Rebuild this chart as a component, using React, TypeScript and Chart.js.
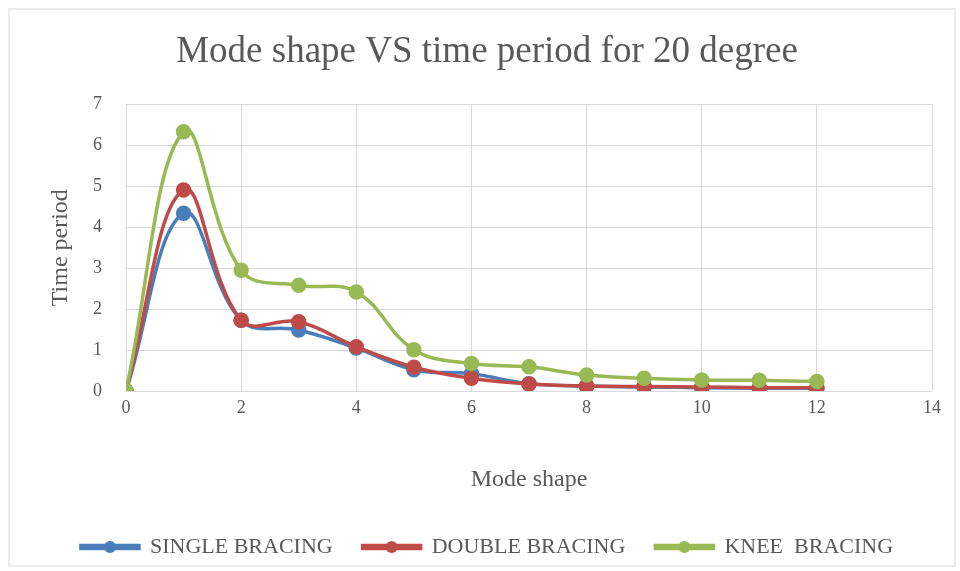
import React, { useEffect, useRef } from "react";
import { Chart, registerables } from "chart.js";

Chart.register(...registerables);

const modes = [0, 1, 2, 3, 4, 5, 6, 7, 8, 9, 10, 11, 12];
const singleBracing = [0, 4.34, 1.73, 1.49, 1.05, 0.52, 0.42, 0.18, 0.12, 0.1, 0.08, 0.07, 0.07];
const doubleBracing = [0, 4.91, 1.73, 1.69, 1.08, 0.58, 0.31, 0.17, 0.12, 0.11, 0.1, 0.08, 0.08];
const kneeBracing = [0, 6.33, 2.95, 2.58, 2.42, 1.01, 0.67, 0.59, 0.39, 0.31, 0.27, 0.26, 0.23];
const seriesNames = ["SINGLE BRACING", "DOUBLE BRACING", "KNEE  BRACING"];
const seriesColors = ["#4A7EBB", "#BE4B48", "#98B954"];

const FONT = "'Liberation Serif', 'DejaVu Serif', serif";
const TEXT = "#595959";

const legendMarkers = {
  id: "legendMarkers",
  afterDraw(chart: any) {
    const legend = chart.legend;
    if (!legend || !legend.legendHitBoxes) return;
    const ctx = chart.ctx;
    const bw = legend.options.labels.boxWidth;
    legend.legendItems.forEach((item: any, i: number) => {
      const hb = legend.legendHitBoxes[i];
      if (!hb) return;
      ctx.save();
      ctx.fillStyle = seriesColors[item.datasetIndex];
      ctx.beginPath();
      ctx.arc(hb.left + bw / 2, hb.top + hb.height / 2, 6, 0, Math.PI * 2);
      ctx.fill();
      ctx.restore();
    });
  },
};

const frame = {
  id: "frame",
  beforeDraw(chart: any) {
    const ctx = chart.ctx;
    ctx.save();
    ctx.fillStyle = "#ffffff";
    ctx.fillRect(0, 0, chart.width, chart.height);
    ctx.strokeStyle = "#ececec";
    ctx.lineWidth = 2;
    ctx.strokeRect(9, 9, chart.width - 14, chart.height - 14);
    ctx.restore();
  },
};

export default function App() {
  const ref = useRef<HTMLCanvasElement>(null);
  useEffect(() => {
    document.body.style.margin = "0";
    const mk = (vals: number[]) => modes.map((m, i) => ({ x: m, y: vals[i] }));
    const all = [singleBracing, doubleBracing, kneeBracing];
    const chart = new Chart(ref.current!, {
      type: "line",
      data: {
        datasets: all.map((vals, i) => ({
          label: seriesNames[i],
          data: mk(vals),
          borderColor: seriesColors[i],
          backgroundColor: seriesColors[i],
          pointBackgroundColor: seriesColors[i],
          pointBorderColor: seriesColors[i],
          pointRadius: 6,
          borderWidth: 3.5,
          tension: 0.4,
          order: 3 - i,
        })),
      },
      options: {
        responsive: false,
        animation: false,
        layout: { padding: { left: 42, right: 28, top: 0, bottom: 3 } },
        plugins: {
          title: {
            display: true,
            text: "Mode shape VS time period for 20 degree",
            color: TEXT,
            font: { family: FONT, size: 37, weight: "normal" },
            padding: { top: 30, bottom: 30 },
          },
          legend: {
            position: "bottom",
            labels: {
              color: TEXT,
              font: { family: FONT, size: 22 },
              boxWidth: 58,
              boxHeight: 3,
              padding: 30,
              sort: (a: any, b: any) => a.datasetIndex - b.datasetIndex,
            },
          },
          tooltip: { enabled: false },
        },
        scales: {
          x: {
            type: "linear",
            min: 0,
            max: 14,
            ticks: { stepSize: 2, color: TEXT, font: { family: FONT, size: 18 }, padding: 6 },
            grid: { color: "#d9d9d9", drawTicks: false },
            border: { display: false },
            title: {
              display: true,
              text: "Mode shape",
              color: TEXT,
              font: { family: FONT, size: 24 },
              padding: { top: 0, bottom: 12 },
            },
            afterFit: (s: any) => {
              s.height = 115;
            },
          },
          y: {
            min: 0,
            max: 7,
            ticks: { stepSize: 1, color: TEXT, font: { family: FONT, size: 18 }, padding: 24 },
            grid: { color: "#d9d9d9", drawTicks: false },
            border: { display: false },
            title: {
              display: true,
              text: "Time period",
              color: TEXT,
              font: { family: FONT, size: 24 },
              padding: { top: 4, bottom: 0 },
            },
            afterFit: (s: any) => {
              s.width = 84;
            },
          },
        },
      },
      plugins: [frame, legendMarkers],
    });
    return () => chart.destroy();
  }, []);
  return (
    <div style={{ width: 960, height: 571 }}>
      <canvas ref={ref} width={960} height={571} />
    </div>
  );
}
